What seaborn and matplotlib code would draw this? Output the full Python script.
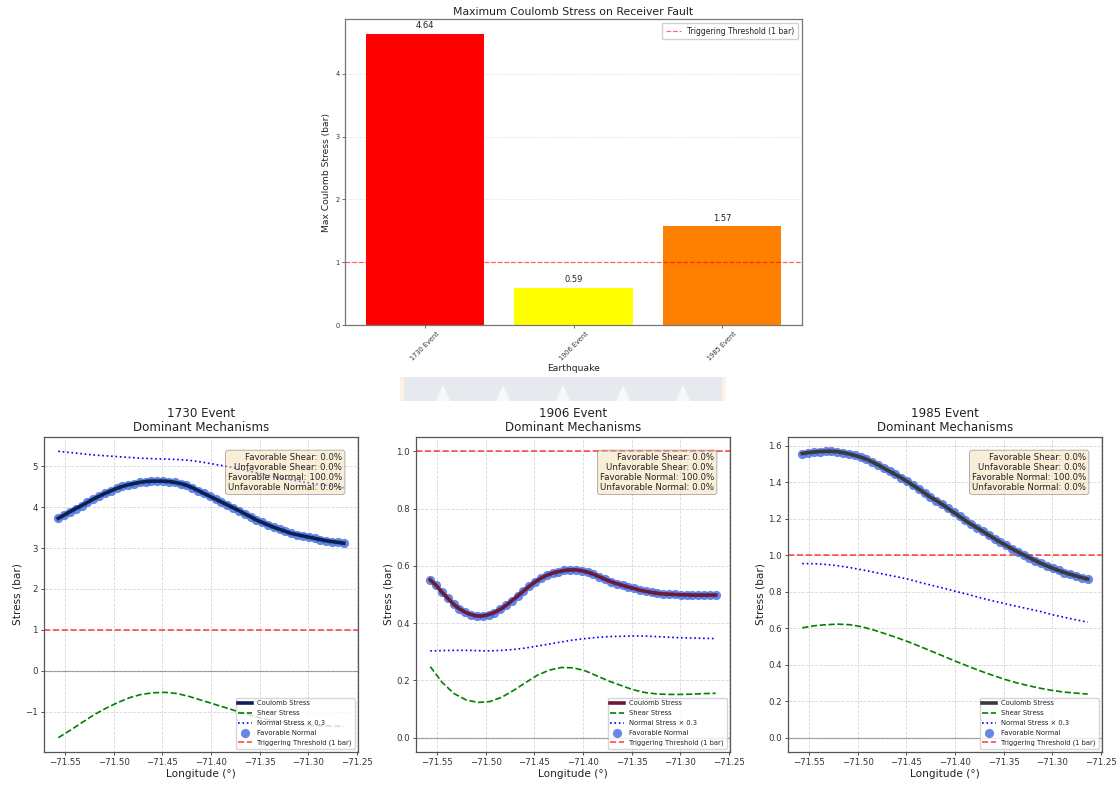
import numpy as np
import pandas as pd
import matplotlib
matplotlib.use("Agg")
import matplotlib.pyplot as plt
import seaborn as sns
from matplotlib.patches import Rectangle, Polygon

# ---------------------------------------------------------------------------
# Data
# ---------------------------------------------------------------------------
events = ["1730 Event", "1906 Event", "1985 Event"]
max_coulomb = [4.64, 0.59, 1.57]
bar_colors = ["#ff0000", "#ffff00", "#ff7f00"]
threshold = 1.0

# receiver-fault profile sampling (longitude, degrees)
lon_start, lon_end = -71.557, -71.2635
lon_fine = np.linspace(lon_start, lon_end, 50)
lon_coarse = np.linspace(lon_start, lon_end, 25)

coulomb_1730 = [3.73, 3.81, 3.89, 3.97, 4.04, 4.12, 4.20, 4.27, 4.34, 4.40,
                4.46, 4.51, 4.55, 4.58, 4.61, 4.63, 4.64, 4.64, 4.64, 4.63,
                4.61, 4.58, 4.54, 4.48, 4.41, 4.34, 4.27, 4.20, 4.13, 4.06,
                3.99, 3.92, 3.84, 3.77, 3.69, 3.63, 3.57, 3.51, 3.46, 3.41,
                3.36, 3.33, 3.30, 3.27, 3.24, 3.21, 3.18, 3.16, 3.14, 3.12]
shear_1730 = [-1.64, -1.46, -1.27, -1.08, -0.92, -0.78, -0.66, -0.58, -0.54, -0.53,
              -0.56, -0.63, -0.72, -0.81, -0.90, -0.99, -1.08, -1.16, -1.22, -1.27,
              -1.31, -1.33, -1.35, -1.36, -1.36]
normal_x03_1730 = [5.37, 5.34, 5.31, 5.28, 5.26, 5.24, 5.22, 5.20, 5.19, 5.18,
                   5.17, 5.15, 5.11, 5.06, 5.01, 4.95, 4.89, 4.82, 4.76, 4.70,
                   4.65, 4.60, 4.56, 4.52, 4.48]

coulomb_1906 = [0.551, 0.532, 0.508, 0.487, 0.466, 0.450, 0.438, 0.430, 0.425, 0.425,
                0.430, 0.437, 0.448, 0.462, 0.478, 0.495, 0.512, 0.529, 0.544, 0.557,
                0.567, 0.575, 0.580, 0.584, 0.586, 0.586, 0.583, 0.578, 0.571, 0.562,
                0.553, 0.545, 0.538, 0.532, 0.526, 0.521, 0.515, 0.511, 0.507, 0.504,
                0.502, 0.501, 0.500, 0.499, 0.499, 0.498, 0.498, 0.498, 0.498, 0.498]
shear_1906 = [0.248, 0.193, 0.154, 0.132, 0.123, 0.126, 0.141, 0.165, 0.192, 0.218,
              0.236, 0.245, 0.244, 0.234, 0.216, 0.198, 0.183, 0.168, 0.158, 0.153,
              0.151, 0.151, 0.152, 0.154, 0.155]
normal_x03_1906 = [0.303, 0.304, 0.305, 0.305, 0.304, 0.303, 0.305, 0.308, 0.313, 0.320,
                   0.327, 0.334, 0.341, 0.346, 0.350, 0.353, 0.354, 0.355, 0.355, 0.353,
                   0.351, 0.349, 0.348, 0.347, 0.346]

coulomb_1985 = [1.557, 1.562, 1.565, 1.568, 1.569, 1.569, 1.567, 1.562, 1.555, 1.547,
                1.537, 1.526, 1.511, 1.495, 1.477, 1.459, 1.442, 1.424, 1.404, 1.383,
                1.362, 1.340, 1.318, 1.299, 1.279, 1.256, 1.234, 1.212, 1.190, 1.169,
                1.150, 1.130, 1.110, 1.090, 1.071, 1.053, 1.035, 1.018, 1.002, 0.986,
                0.970, 0.955, 0.941, 0.928, 0.916, 0.905, 0.895, 0.886, 0.877, 0.869]
shear_1985 = [0.602, 0.613, 0.619, 0.622, 0.619, 0.608, 0.590, 0.569, 0.547, 0.523,
              0.497, 0.470, 0.443, 0.416, 0.390, 0.365, 0.342, 0.320, 0.301, 0.285,
              0.271, 0.259, 0.250, 0.244, 0.239]
normal_x03_1985 = [0.954, 0.953, 0.949, 0.942, 0.932, 0.920, 0.907, 0.894, 0.881, 0.867,
                   0.849, 0.833, 0.817, 0.800, 0.784, 0.766, 0.750, 0.735, 0.720, 0.706,
                   0.692, 0.674, 0.660, 0.646, 0.633]

# share of points in each mechanism class (%)
fav_shear = [0.0, 0.0, 0.0]
unfav_shear = [0.0, 0.0, 0.0]
fav_normal = [100.0, 100.0, 100.0]
unfav_normal = [0.0, 0.0, 0.0]

coulomb_colors = ["#0b2150", "#6a1b3a", "#3a3a3a"]

profiles = [
    (coulomb_1730, shear_1730, normal_x03_1730),
    (coulomb_1906, shear_1906, normal_x03_1906),
    (coulomb_1985, shear_1985, normal_x03_1985),
]

# ---------------------------------------------------------------------------
# Style
# ---------------------------------------------------------------------------
plt.rcParams.update({
    "font.family": ["DejaVu Sans"],
    "axes.edgecolor": "#555555",
    "axes.linewidth": 0.9,
    "xtick.major.size": 2.5,
    "ytick.major.size": 2.5,
    "xtick.major.width": 0.6,
    "ytick.major.width": 0.6,
    "xtick.major.pad": 2.0,
    "ytick.major.pad": 2.0,
    "xtick.color": "#333333",
    "ytick.color": "#333333",
    "text.color": "#222222",
    "axes.labelcolor": "#222222",
})

W, H = 1119, 787
fig = plt.figure(figsize=(W / 100, H / 100), dpi=100)


def frac_box(left, top, right, bottom):
    return [left / W, 1 - bottom / H, (right - left) / W, (bottom - top) / H]


# ---------------------------------------------------------------------------
# Top: maximum Coulomb stress per event
# ---------------------------------------------------------------------------
ax_top = fig.add_axes(frac_box(345, 19, 802, 325))
bar_df = pd.DataFrame({"Earthquake": events, "Max": max_coulomb})
bar_width = 0.8
sns.barplot(data=bar_df, x="Earthquake", y="Max", hue="Earthquake",
            palette=bar_colors, saturation=1, width=bar_width, legend=False,
            linewidth=0, ax=ax_top)
for cont in ax_top.containers:
    ax_top.bar_label(cont, fmt="%.2f", padding=2.5, fontsize=6, color="#222222")
ax_top.axhline(threshold, color="red", ls="--", lw=0.9, alpha=0.6,
               label="Triggering Threshold (1 bar)")
# standard 5% side margins around the outer bars
span = (len(events) - 1) + bar_width
ax_top.set_xlim(-bar_width / 2 - 0.05 * span,
                len(events) - 1 + bar_width / 2 + 0.05 * span)
ax_top.set_axisbelow(True)
ax_top.grid(axis="y", ls="--", lw=0.5, alpha=0.35)
ax_top.set_title("Maximum Coulomb Stress on Receiver Fault", fontsize=7.8, pad=3)
ax_top.set_xlabel("Earthquake", fontsize=6.7, labelpad=2)
ax_top.set_ylabel("Max Coulomb Stress (bar)", fontsize=6.6, labelpad=3)
ax_top.tick_params(axis="both", labelsize=4.8, length=2, width=0.5)
plt.setp(ax_top.get_xticklabels(), rotation=45)
for sp in ax_top.spines.values():
    sp.set_edgecolor("#777777")
ax_top.legend(loc="upper right", fontsize=5.5, framealpha=0.9,
              handlelength=2.0, borderpad=0.5)

# ---------------------------------------------------------------------------
# Decorative banner strip between the panels
# ---------------------------------------------------------------------------
fig.patches.append(Rectangle((400 / W, 1 - 401 / H), 326 / W, 24 / H,
                             transform=fig.transFigure, facecolor="#e6eaee",
                             edgecolor="none", zorder=0))
for xl in (400, 722):
    fig.patches.append(Rectangle((xl / W, 1 - 401 / H), 4 / W, 24 / H,
                                 transform=fig.transFigure, facecolor="#fdf1e2",
                                 edgecolor="none", zorder=0))
for apex in (443, 503, 563, 623, 683):
    fig.patches.append(Polygon([((apex - 7) / W, 1 - 401 / H),
                                (apex / W, 1 - 385 / H),
                                ((apex + 7) / W, 1 - 401 / H)],
                               closed=True, transform=fig.transFigure,
                               facecolor="#f7f8fa", edgecolor="none", zorder=0))

# ---------------------------------------------------------------------------
# Bottom: stress profiles along the receiver fault
# ---------------------------------------------------------------------------
lefts = [44, 416, 788]
legend_order = ["Coulomb Stress", "Shear Stress", "Normal Stress × 0.3",
                "Favorable Normal", "Triggering Threshold (1 bar)"]

for k, (ev, (coul, shear, normal), col, left) in enumerate(
        zip(events, profiles, coulomb_colors, lefts)):
    ax = fig.add_axes(frac_box(left, 437, left + 314, 752))

    sns.lineplot(x=lon_fine, y=coul, ax=ax, color=col, lw=2.6,
                 label="Coulomb Stress", legend=False, zorder=3)
    sns.lineplot(x=lon_coarse, y=shear, ax=ax, color="green", lw=1.2,
                 ls="--", label="Shear Stress", legend=False, zorder=2)
    sns.lineplot(x=lon_coarse, y=normal, ax=ax, color="blue", lw=1.2,
                 ls=":", label="Normal Stress × 0.3", legend=False, zorder=2)
    sns.scatterplot(x=lon_fine, y=coul, ax=ax, color="royalblue", s=44,
                    alpha=0.8, linewidth=0, label="Favorable Normal",
                    legend=False, zorder=2.5)
    ax.axhline(threshold, color="red", ls="--", lw=1.2, alpha=0.7,
               label="Triggering Threshold (1 bar)")
    ax.axhline(0, color="black", lw=0.9, alpha=0.3)

    ax.grid(True, ls="--", lw=0.6, alpha=0.5)
    ax.set_title(f"{ev}\nDominant Mechanisms", fontsize=8.6, pad=4,
                 linespacing=1.1)
    ax.set_xlabel("Longitude (°)", fontsize=7.6, labelpad=1.5)
    ax.set_ylabel("Stress (bar)", fontsize=7.6, labelpad=2)
    ax.tick_params(axis="both", labelsize=6.2)

    info = (f"Favorable Shear: {fav_shear[k]:.1f}%\n"
            f"Unfavorable Shear: {unfav_shear[k]:.1f}%\n"
            f"Favorable Normal: {fav_normal[k]:.1f}%\n"
            f"Unfavorable Normal: {unfav_normal[k]:.1f}%")
    ax.text(0.95, 0.95, info, transform=ax.transAxes, ha="right", va="top",
            fontsize=6.2, zorder=5, linespacing=1.15,
            bbox=dict(boxstyle="round,pad=0.3", facecolor="wheat", alpha=0.5,
                      edgecolor="#555555", linewidth=0.6))

    handles, labels = ax.get_legend_handles_labels()
    lookup = dict(zip(labels, handles))
    ax.legend([lookup[l] for l in legend_order], legend_order,
              loc="lower right", fontsize=4.9, framealpha=0.8,
              borderpad=0.4, labelspacing=0.55, handlelength=2.0)

fig.savefig("out.png", dpi=100, facecolor="white")
